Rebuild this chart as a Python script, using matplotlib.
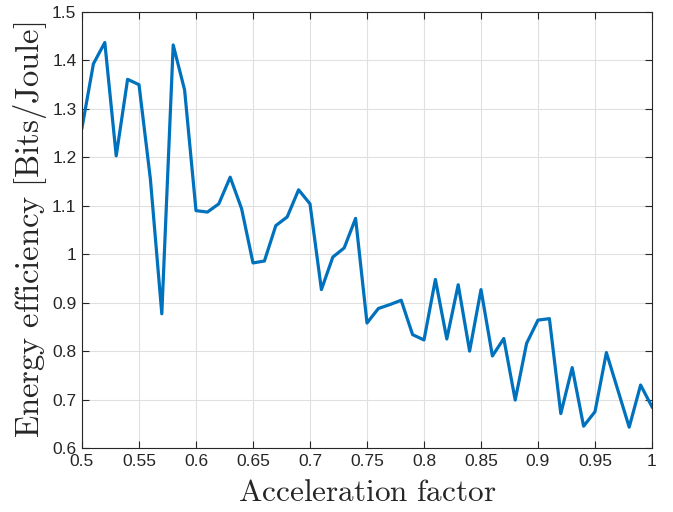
import matplotlib
matplotlib.use("Agg")
import matplotlib.pyplot as plt
import numpy as np

plt.rcParams['mathtext.fontset'] = 'cm'

accel = [0.50, 0.51, 0.52, 0.53, 0.54, 0.55, 0.56, 0.57, 0.58, 0.59,
         0.60, 0.61, 0.62, 0.63, 0.64, 0.65, 0.66, 0.67, 0.68, 0.69,
         0.70, 0.71, 0.72, 0.73, 0.74, 0.75, 0.76, 0.77, 0.78, 0.79,
         0.80, 0.81, 0.82, 0.83, 0.84, 0.85, 0.86, 0.87, 0.88, 0.89,
         0.90, 0.91, 0.92, 0.93, 0.94, 0.95, 0.96, 0.97, 0.98, 0.99, 1.00]
efficiency = [1.261, 1.393, 1.437, 1.203, 1.361, 1.350, 1.155, 0.877, 1.432, 1.339,
              1.090, 1.087, 1.104, 1.159, 1.094, 0.982, 0.986, 1.059, 1.077, 1.133,
              1.104, 0.927, 0.994, 1.013, 1.074, 0.858, 0.888, 0.896, 0.905, 0.834,
              0.823, 0.948, 0.825, 0.937, 0.800, 0.927, 0.790, 0.826, 0.699, 0.816,
              0.864, 0.867, 0.671, 0.766, 0.645, 0.675, 0.797, 0.720, 0.643, 0.730, 0.685]
xticks = [0.5, 0.55, 0.6, 0.65, 0.7, 0.75, 0.8, 0.85, 0.9, 0.95, 1]
xticklabels = ['0.5', '0.55', '0.6', '0.65', '0.7', '0.75', '0.8', '0.85', '0.9', '0.95', '1']
yticks = [0.6, 0.7, 0.8, 0.9, 1.0, 1.1, 1.2, 1.3, 1.4, 1.5]
yticklabels = ['0.6', '0.7', '0.8', '0.9', '1', '1.1', '1.2', '1.3', '1.4', '1.5']

fig = plt.figure(figsize=(6.73, 5.12), dpi=100)
ax = fig.add_axes([82/673, 1 - 448/512, (652-82)/673, (448-12)/512])

axc = (0.15, 0.15, 0.15)
ax.plot(accel, efficiency, color=(0, 0.447, 0.741), linewidth=2.3)
ax.set_xlim(0.5, 1)
ax.set_ylim(0.6, 1.5)
ax.set_xticks(xticks)
ax.set_xticklabels(xticklabels, family='Liberation Sans', fontsize=12.5, color=axc)
ax.set_yticks(yticks)
ax.set_yticklabels(yticklabels, family='Liberation Sans', fontsize=12.5, color=axc)
ax.grid(True, color=(0.88, 0.88, 0.88), linewidth=0.8)
ax.set_axisbelow(True)
ax.tick_params(direction='in', top=True, right=True, length=5, width=0.8, colors=axc, pad=4)
for s in ax.spines.values():
    s.set_color(axc)
    s.set_linewidth(0.8)
ax.set_xlabel(r'$\mathrm{Acceleration\ factor}$', fontsize=22.5, color=axc, labelpad=7)
ax.set_ylabel(r'$\mathrm{Energy\ efficiency\ [Bits/Joule]}$', fontsize=23.5, color=axc, labelpad=2)

fig.savefig('out.png', dpi=100)
